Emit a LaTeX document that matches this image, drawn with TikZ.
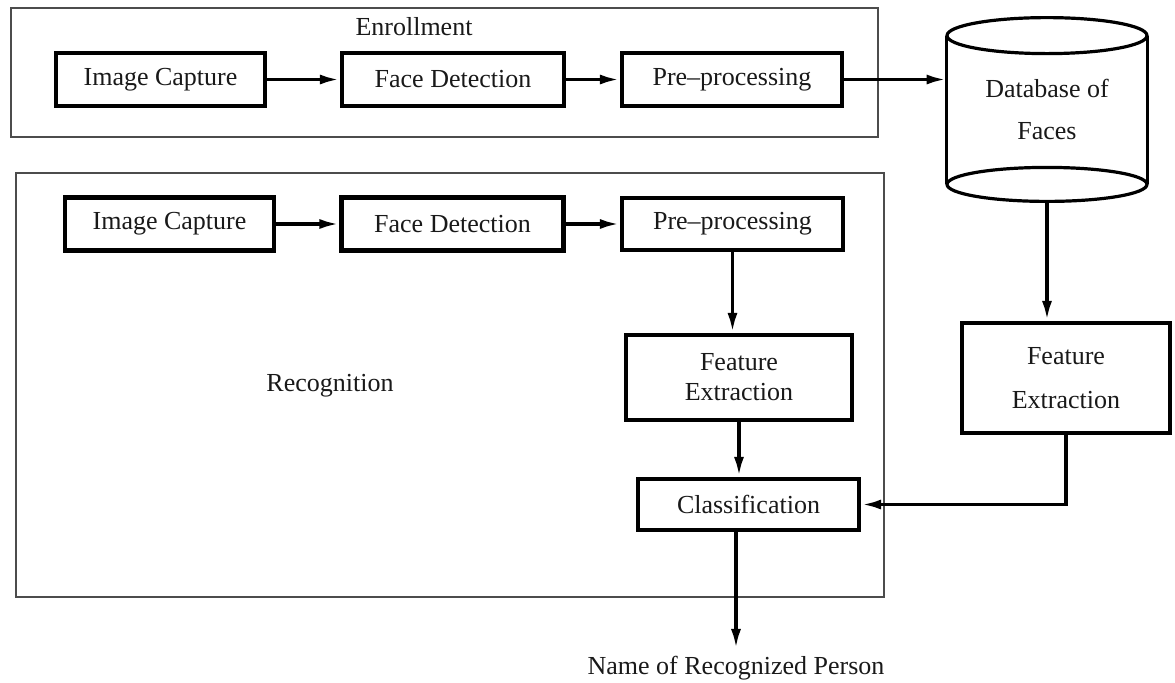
\documentclass[tikz,border=0pt]{standalone}
\usepackage{fontspec}
\setmainfont{Liberation Serif}
\usepackage{tikz}
\usetikzlibrary{arrows.meta,calc}

\tikzset{
  stagebox/.style={draw, line width=2.1pt, inner sep=0pt, align=center, text=black!90},
  groupbox/.style={draw=black!70, line width=0.8pt},
  flow/.style={-{Latex[length=10pt,width=5pt]}, line width=1.8pt},
  dbline/.style={line width=1.6pt}
}

\begin{document}
\begin{tikzpicture}[x=0.5pt,y=-0.5pt,font=\fontsize{13}{16}\selectfont]
\useasboundingbox (0,0) rectangle (1175,682);
% group frames
\draw[groupbox] (11,8) rectangle (878,137);
\draw[groupbox] (16,173) rectangle (884,597);
\node[text=black!90] (enrolltxt) at (414,27) {Enrollment};
\node[text=black!90] (recogtxt) at (330,386) {Recognition};

% enrollment row
\node[stagebox, minimum width=104.5pt, minimum height=26.5pt] (ic1) at (160.5,79.5) {Image Capture};
\node[stagebox, minimum width=111pt, minimum height=26.5pt] (fd1) at (453,79.5) {Face Detection};
\node[stagebox, minimum width=110pt, minimum height=26.5pt] (pre1) at (732,79.5) {Pre--processing};

% database
\node[text=black!90, minimum width=100pt, minimum height=91.5pt, inner sep=0pt, align=center] (db) at (1047,109.5) {Database of\\[5pt]Faces};
\draw[dbline] ($(db.north west)+(0,18)$) -- ($(db.south west)+(0,-17)$);
\draw[dbline] ($(db.north east)+(0,18)$) -- ($(db.south east)+(0,-17)$);
\draw[dbline] ($(db.north)+(0,18)$) ellipse [x radius=50pt, y radius=9pt];
\draw[dbline] ($(db.south)+(0,-17)$) ellipse [x radius=50pt, y radius=8.5pt];

% recognition row
\node[stagebox, minimum width=104.5pt, minimum height=26.5pt] (ic2) at (169.5,224) {Image Capture};
\node[stagebox, minimum width=111pt, minimum height=26.5pt] (fd2) at (452.5,224) {Face Detection};
\node[stagebox, minimum width=110.5pt, minimum height=26pt] (pre2) at (732.5,224) {Pre--processing};
\node[stagebox, minimum width=113pt, minimum height=42.5pt] (fe2) at (739,377.5) {Feature\\[-1pt]Extraction};
\node[stagebox, minimum width=104pt, minimum height=55pt] (fe1) at (1066,378) {Feature\\[6pt]Extraction};
\node[stagebox, minimum width=110.5pt, minimum height=25.5pt] (cls) at (748.5,504.5) {Classification};
\node[text=black!90] (out) at (736,668) {Name of Recognized Person};

% connectors
\draw[flow] (ic1) -- (fd1);
\draw[flow] (fd1) -- (pre1);
\draw[flow] (pre1.east) -- (pre1.east -| db.west);
\draw[flow] (db.south) -- (db.south |- fe1.north);
\draw[flow] (ic2) -- (fd2);
\draw[flow] (fd2) -- (pre2);
\draw[flow] (pre2) -- (pre2 |- fe2.north);
\draw[flow] (fe2) -- (fe2 |- cls.north);
\draw[flow] (fe1.south) |- (cls.east);
\draw[flow] (out.north |- cls.south) -- (out.north);
\end{tikzpicture}
\end{document}
